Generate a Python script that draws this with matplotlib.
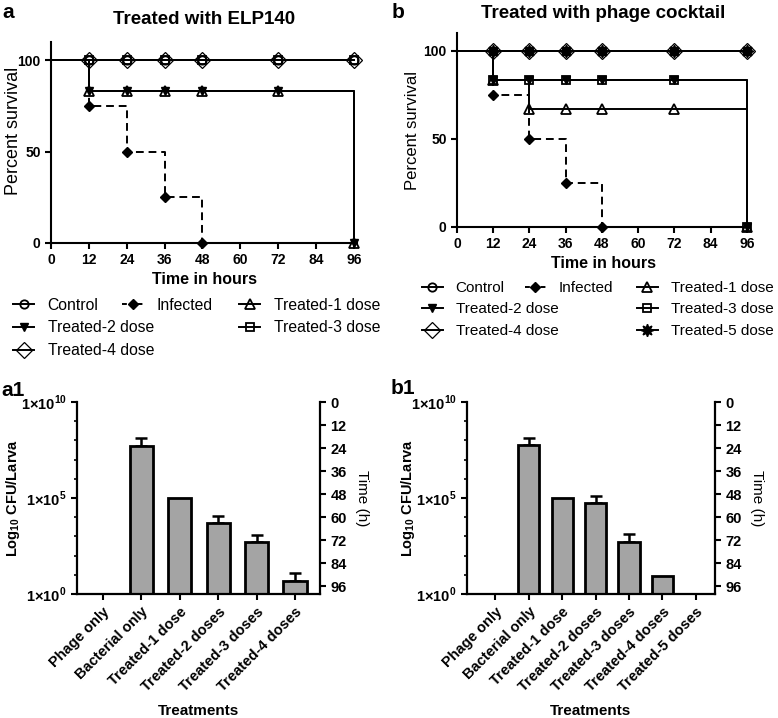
import matplotlib
matplotlib.use("Agg")
import matplotlib.pyplot as plt
import numpy as np
from matplotlib.lines import Line2D
from matplotlib.ticker import FixedLocator, NullFormatter

plt.rcParams['font.family'] = ['Liberation Sans', 'DejaVu Sans']
plt.rcParams['mathtext.fontset'] = 'custom'
plt.rcParams['mathtext.rm'] = 'Liberation Sans'
plt.rcParams['mathtext.bf'] = 'Liberation Sans:bold'

W, H = 778, 718

# ---- survival data (percent survival at each time point, hours)
times = [0, 12, 24, 36, 48, 72, 96]
surv_a = {
    'Treated-4 dose': [100, 100, 100, 100, 100, 100, 100],
    'Control': [100, 100, 100, 100, 100, 100, 100],
    'Infected': [100, 75, 50, 25, 0],
    'Treated-1 dose': [100, 83.3, 83.3, 83.3, 83.3, 83.3, 0],
    'Treated-2 dose': [100, 83.3, 83.3, 83.3, 83.3, 83.3, 0],
    'Treated-3 dose': [100, 100, 100, 100, 100, 100, 100],
}
surv_b = {
    'Treated-4 dose': [100, 100, 100, 100, 100, 100, 100],
    'Control': [100, 100, 100, 100, 100, 100, 100],
    'Treated-5 dose': [100, 100, 100, 100, 100, 100, 100],
    'Infected': [100, 75, 50, 25, 0],
    'Treated-1 dose': [100, 83.3, 66.7, 66.7, 66.7, 66.7, 0],
    'Treated-2 dose': [100, 83.3, 83.3, 83.3, 83.3, 83.3, 0],
    'Treated-3 dose': [100, 83.3, 83.3, 83.3, 83.3, 83.3, 0],
}

# ---- bacterial load (log10 CFU per larva), upper end of error bar
groups_a = ['Phage only', 'Bacterial only', 'Treated-1 dose', 'Treated-2 doses',
            'Treated-3 doses', 'Treated-4 doses']
log_cfu_a = [np.nan, 7.72, 4.98, 3.71, 2.69, 0.69]
log_err_a = [np.nan, 8.11, np.nan, 4.08, 3.09, 1.08]

groups_b = ['Phage only', 'Bacterial only', 'Treated-1 dose', 'Treated-2 doses',
            'Treated-3 doses', 'Treated-4 doses', 'Treated-5 doses']
log_cfu_b = [np.nan, 7.76, 4.98, 4.72, 2.69, 0.95, np.nan]
log_err_b = [np.nan, 8.14, np.nan, 5.10, 3.11, np.nan, np.nan]

time_ticks = [0, 12, 24, 36, 48, 60, 72, 84, 96]

markers = {
    'Control': dict(marker='o', mfc='none', ms=6, mew=1.3),
    'Infected': dict(marker='D', mfc='black', ms=5, mew=1),
    'Treated-1 dose': dict(marker='^', mfc='none', ms=7, mew=1.3),
    'Treated-2 dose': dict(marker='v', mfc='black', ms=6, mew=1),
    'Treated-3 dose': dict(marker='s', mfc='none', ms=5.5, mew=1.3),
    'Treated-4 dose': dict(marker='D', mfc='none', ms=8.5, mew=0.9),
    'Treated-5 dose': dict(marker=(8, 1, 0), mfc='black', ms=9, mew=1),
}


def px_axes(fig, left, top, right, bottom):
    return fig.add_axes([left / W, 1 - bottom / H, (right - left) / W, (bottom - top) / H])


def survival_panel(ax, series, title, title_pad, ylab_size, ylab_xy):
    for name, vals in series.items():
        ls = (0, (4, 2.5)) if name == 'Infected' else '-'
        t = times[:len(vals)]
        ax.step(t, vals, where='post', color='black', lw=1.4, ls=ls, clip_on=False, zorder=2)
        ax.plot(t[1:], vals[1:], ls='none', color='black', clip_on=False, zorder=3, **markers[name])
    ax.set_xlim(0, 97)
    ax.set_ylim(0, 110)
    ax.set_xticks(time_ticks)
    ax.set_yticks([0, 50, 100])
    for s in ['top', 'right']:
        ax.spines[s].set_visible(False)
    for s in ['left', 'bottom']:
        ax.spines[s].set_linewidth(1.5)
    ax.tick_params(width=1.5, length=4, labelsize=10)
    for lab in ax.get_xticklabels() + ax.get_yticklabels():
        lab.set_fontweight('bold')
    ax.set_ylabel('Percent survival', fontsize=ylab_size)
    ax.yaxis.set_label_coords(*ylab_xy)
    ax.set_xlabel('Time in hours', fontsize=11.5, fontweight='bold', labelpad=3)
    ax.set_title(title, fontsize=13.5, fontweight='bold', pad=title_pad)


def bar_panel(ax, groups, log_vals, log_err, width, ylab_x):
    x = np.arange(len(groups))
    vals = 10.0 ** np.array(log_vals)
    errs = 10.0 ** np.array(log_err)
    has_bar = ~np.isnan(vals)
    has_err = ~np.isnan(errs)
    ax.bar(x[has_bar], vals[has_bar], width=width, color='#a4a4a4', edgecolor='black',
           linewidth=2, zorder=2)
    ax.errorbar(x[has_err], vals[has_err],
                yerr=[np.zeros(has_err.sum()), errs[has_err] - vals[has_err]],
                fmt='none', ecolor='black', elinewidth=1.8, capsize=4.3, capthick=1.8, zorder=1)
    ax.set_yscale('log')
    ax.set_ylim(1, 1e10)
    ax.set_yticks([1, 1e5, 1e10])
    ax.set_yticklabels(['1×10$^{\\mathbf{0}}$', '1×10$^{\\mathbf{5}}$', '1×10$^{\\mathbf{10}}$'],
                       fontsize=10.5, fontweight='bold')
    ax.yaxis.set_minor_locator(FixedLocator([10.0 ** k for k in range(1, 10) if k != 5]))
    ax.yaxis.set_minor_formatter(NullFormatter())
    ax.set_xticks(x)
    ax.set_xticklabels(groups, rotation=45, ha='right', rotation_mode='anchor',
                       fontsize=10.5, fontweight='bold')
    ax.spines['top'].set_visible(False)
    ax.spines['right'].set_visible(False)
    for s in ['left', 'bottom']:
        ax.spines[s].set_linewidth(1.6)
    ax.tick_params(axis='both', which='major', width=1.5, length=4)
    ax.tick_params(axis='y', which='minor', width=1.2, length=2.5)
    ax.set_ylabel('Log$_{\\mathbf{10}}$ CFU/Larva', fontsize=10.5, fontweight='bold')
    ax.yaxis.set_label_coords(ylab_x, 0.5)
    ax.set_xlabel('Treatments', fontsize=11, fontweight='bold')
    ax.xaxis.set_label_coords(0.5, -0.575)

    ax2 = ax.twinx()
    ax2.set_ylim(100, 0)
    ax2.set_yticks(time_ticks)
    ax2.tick_params(width=1.5, length=4, labelsize=10.5)
    for lab in ax2.get_yticklabels():
        lab.set_fontweight('bold')
    for s in ['top', 'left', 'bottom']:
        ax2.spines[s].set_visible(False)
    ax2.spines['right'].set_linewidth(1.6)
    ax2.set_ylabel('Time (h)', fontsize=11, rotation=270, labelpad=16)
    return ax2


def add_key(fig, name, x_px, y_px, size):
    st = markers[name]
    ls = (0, (2.5, 1.5)) if name == 'Infected' else '-'
    h = Line2D([], [], color='black', lw=1.4, ls=ls, **st)
    fig.legend(handles=[h], labels=[name], loc='center left',
               bbox_to_anchor=(x_px / W, 1 - y_px / H), frameon=False, fontsize=size,
               handlelength=1.35, handletextpad=0.85, borderpad=0, borderaxespad=0)


fig = plt.figure(figsize=(W / 100, H / 100), dpi=100)

ax_a = px_axes(fig, 51, 42, 357, 243)
survival_panel(ax_a, surv_a, 'Treated with ELP140', 13, 13, (-0.095, 0.56))
ax_b = px_axes(fig, 457, 33, 750, 227)
survival_panel(ax_b, surv_b, 'Treated with phage cocktail', 11, 12, (-0.125, 0.5))

ax_a1 = px_axes(fig, 77, 402, 320, 594)
ax_a1.set_xlim(-0.67, len(groups_a) - 1 + 0.65)
bar_panel(ax_a1, groups_a, log_cfu_a, log_err_a, 0.6, -0.225)
ax_b1 = px_axes(fig, 467, 402, 715, 594)
ax_b1.set_xlim(-0.84, len(groups_b) - 1 + 0.57)
bar_panel(ax_b1, groups_b, log_cfu_b, log_err_b, 0.63, -0.2)

# legends
add_key(fig, 'Control', 13, 305, 11.3)
add_key(fig, 'Infected', 122, 305, 11.3)
add_key(fig, 'Treated-1 dose', 239, 305, 11.3)
add_key(fig, 'Treated-2 dose', 13, 328, 11.3)
add_key(fig, 'Treated-3 dose', 239, 328, 11.3)
add_key(fig, 'Treated-4 dose', 13, 351, 11.3)

add_key(fig, 'Control', 422, 288, 11)
add_key(fig, 'Infected', 525, 288, 11)
add_key(fig, 'Treated-1 dose', 637, 288, 11)
add_key(fig, 'Treated-2 dose', 422, 309, 11)
add_key(fig, 'Treated-3 dose', 637, 309, 11)
add_key(fig, 'Treated-4 dose', 422, 331, 11)
add_key(fig, 'Treated-5 dose', 637, 331, 11)

# panel letters
for lab, x, y in [('a', 2, 13), ('b', 392, 12), ('a1', 1, 390), ('b1', 391, 389)]:
    fig.text(x / W, 1 - y / H, lab, fontsize=15, fontweight='bold', va='center', ha='left')

fig.savefig('out.png', dpi=100)
